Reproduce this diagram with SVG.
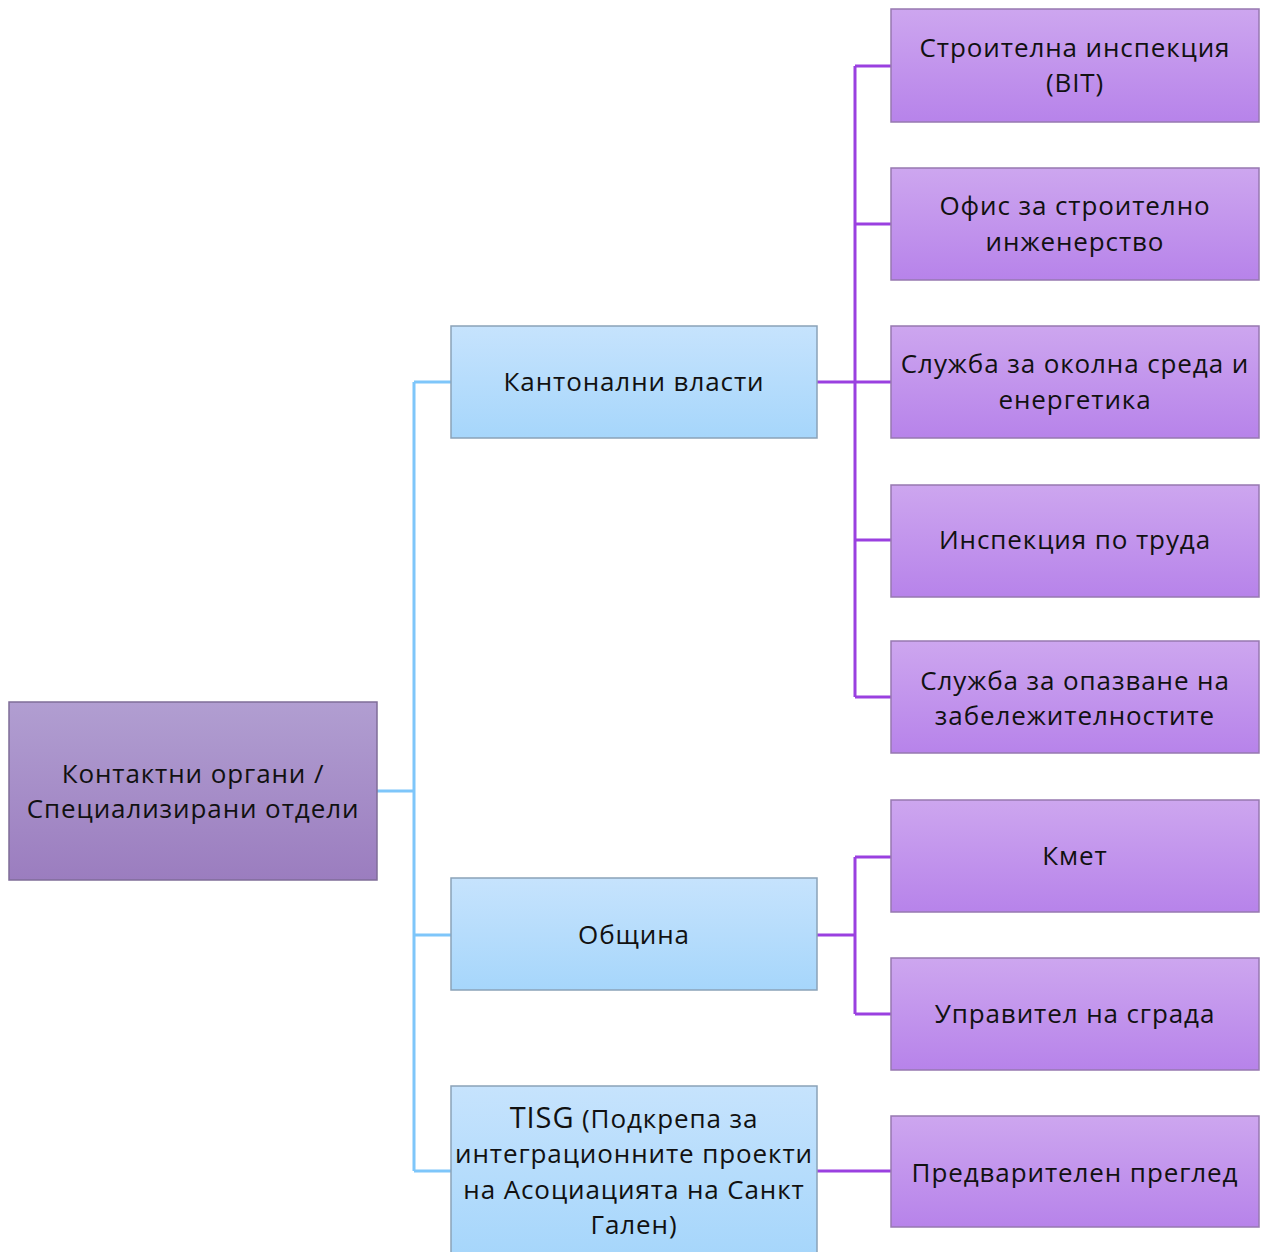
<svg xmlns="http://www.w3.org/2000/svg" width="1261" height="1252" viewBox="0 0 1261 1252">
<defs>
<linearGradient id="gRoot" x1="0" y1="0" x2="0" y2="1"><stop offset="0" stop-color="#b19ed1"/><stop offset="1" stop-color="#9b7dbf"/></linearGradient>
<linearGradient id="gBlue" x1="0" y1="0" x2="0" y2="1"><stop offset="0" stop-color="#c6e3fd"/><stop offset="1" stop-color="#a6d6fb"/></linearGradient>
<linearGradient id="gPur" x1="0" y1="0" x2="0" y2="1"><stop offset="0" stop-color="#cda6ef"/><stop offset="1" stop-color="#b783ea"/></linearGradient>
</defs>
<style>
.root{fill:url(#gRoot);stroke:#7f6d98;stroke-width:1.5}
.blue{fill:url(#gBlue);stroke:#8aa2b8;stroke-width:1.5}
.pur{fill:url(#gPur);stroke:#9678b0;stroke-width:1.5}
text{font-family:"Open Sans","Liberation Sans",sans-serif;font-size:26px;letter-spacing:0.9px;fill:#111;text-anchor:middle}
.cb{fill:none;stroke:#7ec6fa;stroke-width:3}
.cp{fill:none;stroke:#9a40e0;stroke-width:3}
</style>
<g id="connectors">
<path class="cb" d="M377 791H414M414 382V1171M414 382H451M414 935H451M414 1171H451"/>
<path class="cp" d="M817 382H855M855 66V697M855 66H891M855 224H891M855 382H891M855 540H891M855 697H891"/>
<path class="cp" d="M817 935H855M855 857V1014M855 857H891M855 1014H891"/>
<path class="cp" d="M817 1171H891"/>
</g>
<g id="root"><rect class="root" x="9" y="702" width="368" height="178"/><text x="193" y="783">Контактни органи /</text><text x="193" y="818">Специализирани отдели</text></g>
<g id="kanton"><rect class="blue" x="451" y="326" width="366" height="112"/><text x="634" y="391">Кантонални власти</text></g>
<g id="obshtina"><rect class="blue" x="451" y="878" width="366" height="112"/><text x="634" y="944">Община</text></g>
<g id="tisg"><rect class="blue" x="451" y="1086" width="366" height="170"/><text x="634" y="1128"><tspan font-size="29">TISG</tspan> (Подкрепа за</text><text x="634" y="1163">интеграционните проекти</text><text x="634" y="1199">на Асоциацията на Санкт</text><text x="634" y="1234">Гален)</text></g>
<g id="bit"><rect class="pur" x="891" y="9" width="368" height="113"/><text x="1075" y="57">Строителна инспекция</text><text x="1075" y="92">(BIT)</text></g>
<g id="ofis"><rect class="pur" x="891" y="168" width="368" height="112"/><text x="1075" y="215">Офис за строително</text><text x="1075" y="251">инженерство</text></g>
<g id="okolna"><rect class="pur" x="891" y="326" width="368" height="112"/><text x="1075" y="373">Служба за околна среда и</text><text x="1075" y="409">енергетика</text></g>
<g id="trud"><rect class="pur" x="891" y="485" width="368" height="112"/><text x="1075" y="549">Инспекция по труда</text></g>
<g id="zabel"><rect class="pur" x="891" y="641" width="368" height="112"/><text x="1075" y="690">Служба за опазване на</text><text x="1075" y="725">забележителностите</text></g>
<g id="kmet"><rect class="pur" x="891" y="800" width="368" height="112"/><text x="1075" y="865">Кмет</text></g>
<g id="upravitel"><rect class="pur" x="891" y="958" width="368" height="112"/><text x="1075" y="1023">Управител на сграда</text></g>
<g id="pregled"><rect class="pur" x="891" y="1116" width="368" height="111"/><text x="1075" y="1182">Предварителен преглед</text></g>
</svg>
